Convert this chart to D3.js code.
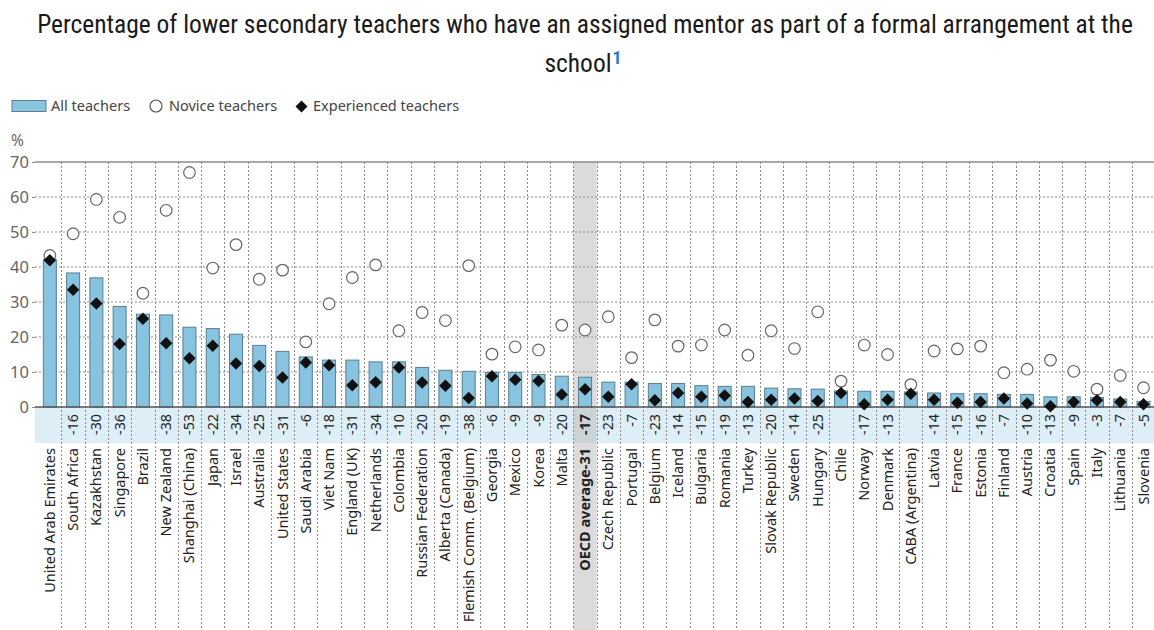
<!DOCTYPE html>
<html>
<head>
<meta charset="utf-8">
<script src="https://cdn.jsdelivr.net/npm/d3@7"></script>
<style>
  body { margin: 0; background: #fff; }
  svg { display: block; }
</style>
</head>
<body>
<div id="chart"></div>
<script>
// categories, in chart order
var countries = ["United Arab Emirates", "South Africa", "Kazakhstan", "Singapore", "Brazil",
  "New Zealand", "Shanghai (China)", "Japan", "Israel", "Australia", "United States",
  "Saudi Arabia", "Viet Nam", "England (UK)", "Netherlands", "Colombia", "Russian Federation",
  "Alberta (Canada)", "Flemish Comm. (Belgium)", "Georgia", "Mexico", "Korea", "Malta",
  "OECD average-31", "Czech Republic", "Portugal", "Belgium", "Iceland", "Bulgaria", "Romania",
  "Turkey", "Slovak Republic", "Sweden", "Hungary", "Chile", "Norway", "Denmark",
  "CABA (Argentina)", "Latvia", "France", "Estonia", "Finland", "Austria", "Croatia", "Spain",
  "Italy", "Lithuania", "Slovenia"];

// % all teachers (bars)
var allTeachers = [42.1, 38.3, 36.9, 28.7, 26.5, 26.3, 22.8, 22.4, 20.8, 17.6, 15.9,
  14.3, 13.4, 13.4, 12.9, 12.9, 11.3, 10.5, 10.2, 9.9, 9.9, 9.3, 8.8,
  8.5, 7.1, 7.1, 6.7, 6.7, 6.1, 5.9, 5.9, 5.4, 5.2, 5.1, 4.6, 4.5, 4.5,
  4.3, 4.0, 3.8, 3.8, 3.6, 3.6, 2.9, 2.9, 2.7, 2.3, 1.6];

// % novice teachers (circles)
var novice = [43.3, 49.5, 59.3, 54.2, 32.5, 56.2, 67.0, 39.7, 46.4, 36.5, 39.1,
  18.6, 29.5, 37.0, 40.6, 21.8, 27.0, 24.7, 40.4, 15.1, 17.2, 16.3, 23.4,
  22.0, 25.8, 14.1, 24.9, 17.4, 17.7, 22.0, 14.8, 21.8, 16.7, 27.2, 7.4, 17.7, 15.0,
  6.4, 16.0, 16.6, 17.4, 9.8, 10.8, 13.4, 10.2, 5.1, 9.0, 5.5];

// % experienced teachers (diamonds)
var experienced = [41.9, 33.5, 29.6, 18.0, 25.2, 18.2, 13.9, 17.5, 12.4, 11.7, 8.4,
  12.7, 11.9, 6.2, 7.1, 11.3, 7.0, 6.1, 2.6, 8.8, 7.8, 7.4, 3.6,
  5.1, 2.9, 6.5, 1.9, 4.0, 2.9, 3.3, 1.4, 2.1, 2.4, 1.7, 4.0, 0.8, 2.1,
  3.8, 2.1, 1.2, 1.4, 2.4, 1.0, 0.2, 1.4, 1.9, 1.4, 0.8];

// significant difference experienced - novice (blank = not significant)
var differences = ["", "-16", "-30", "-36", "", "-38", "-53", "-22", "-34", "-25", "-31",
  "-6", "-18", "-31", "-34", "-10", "-20", "-19", "-38", "-6", "-9", "-9", "-20",
  "-17", "-23", "-7", "-23", "-14", "-15", "-19", "-13", "-20", "-14", "-25", "", "-17", "-13",
  "", "-14", "-15", "-16", "-7", "-10", "-13", "-9", "-3", "-7", "-5"];

var yTicks = [0, 10, 20, 30, 40, 50, 60, 70];
var highlight = "OECD average-31";

var W = 1154, H = 630;
var plotLeft = 35, plotTop = 162, zeroY = 407, bandBottom = 443;
var font = "'Noto Sans', 'Open Sans', sans-serif";
var condensed = "'Roboto Condensed', 'Liberation Sans Narrow', 'DejaVu Sans Condensed', Roboto, sans-serif";

var svg = d3.select("#chart").append("svg")
  .attr("width", W).attr("height", H);

var x = d3.scaleBand()
  .domain(countries)
  .range([38.2, 38.2 + 23.27 * countries.length])
  .padding(0);

var y = d3.scaleLinear()
  .domain([0, 70])
  .range([zeroY, plotTop]);

var barW = 13;

// title
var title = svg.append("text")
  .attr("x", 585).attr("y", 33)
  .attr("text-anchor", "middle")
  .style("font-family", condensed)
  .style("font-size", "21px")
  .attr("fill", "#1a1a1a")
  .text("Percentage of lower secondary teachers who have an assigned mentor as part of a formal arrangement at the");
// fit the first line to the reference width
var tl = title.node().getComputedTextLength();
var titleSize = 21 * 1096 / tl;
title.style("font-size", titleSize.toFixed(2) + "px");

var t2 = svg.append("text")
  .attr("x", 583).attr("y", 72)
  .attr("text-anchor", "middle")
  .style("font-family", condensed)
  .style("font-size", titleSize + "px")
  .attr("fill", "#1a1a1a");
t2.append("tspan").text("school");
t2.append("tspan")
  .attr("dy", -8)
  .attr("dx", 1)
  .style("font-size", (titleSize * 0.7) + "px")
  .style("font-weight", "bold")
  .attr("fill", "#2a7bc0")
  .text("1");

// legend
var legend = svg.append("g").style("font-family", font).style("font-size", "14.5px");
legend.append("rect")
  .attr("x", 12).attr("y", 100.5).attr("width", 34).attr("height", 11)
  .attr("fill", "#8ac5e0").attr("stroke", "#5a7d90").attr("stroke-width", 1);
legend.append("text").attr("x", 51).attr("y", 111).attr("fill", "#444").text("All teachers");
legend.append("circle")
  .attr("cx", 156).attr("cy", 106).attr("r", 6)
  .attr("fill", "#fff").attr("stroke", "#555").attr("stroke-width", 1.2);
legend.append("text").attr("x", 169).attr("y", 111).attr("fill", "#444").text("Novice teachers");
legend.append("path")
  .attr("d", d3.symbol(d3.symbolSquare, 72)())
  .attr("transform", "translate(301.5,106.5) rotate(45)")
  .attr("fill", "#111");
legend.append("text").attr("x", 313).attr("y", 111).attr("fill", "#444").text("Experienced teachers");

// band under zero line for the differences
svg.append("rect")
  .attr("x", plotLeft).attr("y", zeroY)
  .attr("width", W - plotLeft).attr("height", bandBottom - zeroY)
  .attr("fill", "#ddeef7");

// OECD column highlight
svg.append("rect")
  .attr("x", x(highlight)).attr("y", plotTop)
  .attr("width", x.bandwidth()).attr("height", H - plotTop)
  .attr("fill", "#bdbdbd").attr("opacity", 0.55);

// horizontal gridlines
svg.append("g")
  .selectAll("line")
  .data(yTicks.filter(d => d > 0 && d < 70))
  .enter().append("line")
  .attr("x1", plotLeft).attr("x2", W)
  .attr("y1", d => y(d)).attr("y2", d => y(d))
  .attr("stroke", "#8f8f8f").attr("stroke-width", 1)
  .attr("stroke-dasharray", "2,2");

// vertical dotted separators between columns
svg.append("g")
  .selectAll("line")
  .data(countries.slice(1))
  .enter().append("line")
  .attr("x1", d => Math.round(x(d)) + 0.5).attr("x2", d => Math.round(x(d)) + 0.5)
  .attr("y1", plotTop).attr("y2", H)
  .attr("stroke", "#8a8a8a").attr("stroke-width", 1)
  .attr("stroke-dasharray", "2,2");

// top line
svg.append("line")
  .attr("x1", plotLeft).attr("x2", W)
  .attr("y1", y(70)).attr("y2", y(70))
  .attr("stroke", "#8c8c8c").attr("stroke-width", 1.5);

// y axis labels
var yAxis = svg.append("g")
  .attr("transform", `translate(${plotLeft},0)`)
  .call(d3.axisLeft(y).tickValues(yTicks).tickSize(3).tickPadding(3));
yAxis.select(".domain").remove();
yAxis.selectAll(".tick line").attr("stroke", "#8c8c8c");
yAxis.selectAll(".tick text")
  .style("font-family", font).style("font-size", "16.5px").attr("fill", "#666");

svg.append("text")
  .attr("x", 11).attr("y", 146)
  .style("font-family", font).style("font-size", "15.5px")
  .attr("fill", "#666").text("%");

// bars
svg.append("g")
  .selectAll("rect")
  .data(countries)
  .enter().append("rect")
  .attr("x", d => x(d) + (x.bandwidth() - barW) / 2)
  .attr("y", (d, i) => y(allTeachers[i]))
  .attr("width", barW)
  .attr("height", (d, i) => zeroY - y(allTeachers[i]))
  .attr("fill", "#88c3df")
  .attr("stroke", "#5a7d90")
  .attr("stroke-width", 1);

// zero line
svg.append("line")
  .attr("x1", plotLeft).attr("x2", W)
  .attr("y1", zeroY).attr("y2", zeroY)
  .attr("stroke", "#555").attr("stroke-width", 1.5);

// novice circles
svg.append("g")
  .selectAll("circle")
  .data(countries)
  .enter().append("circle")
  .attr("cx", d => x(d) + x.bandwidth() / 2)
  .attr("cy", (d, i) => y(novice[i]))
  .attr("r", 5.8)
  .attr("fill", "#fff")
  .attr("stroke", "#666")
  .attr("stroke-width", 1.2);

// experienced diamonds
svg.append("g")
  .selectAll("path")
  .data(countries)
  .enter().append("path")
  .attr("d", d3.symbol(d3.symbolSquare, 78)())
  .attr("transform", (d, i) => `translate(${x(d) + x.bandwidth() / 2},${y(experienced[i])}) rotate(45)`)
  .attr("fill", "#111");

// difference labels inside the band
svg.append("g")
  .selectAll("text")
  .data(countries)
  .enter().append("text")
  .attr("transform", d => `translate(${x(d) + x.bandwidth() / 2 + 5},414) rotate(-90)`)
  .attr("text-anchor", "end")
  .style("font-family", font)
  .style("font-size", "14.3px")
  .style("font-weight", d => d === highlight ? "bold" : "normal")
  .attr("fill", "#222")
  .text((d, i) => differences[i]);

// category labels
svg.append("g")
  .selectAll("text")
  .data(countries)
  .enter().append("text")
  .attr("transform", d => `translate(${x(d) + x.bandwidth() / 2 + 5},448) rotate(-90)`)
  .attr("text-anchor", "end")
  .style("font-family", font)
  .style("font-size", "14.5px")
  .style("font-weight", d => d === highlight ? "bold" : "normal")
  .attr("fill", "#222")
  .text(d => d);
</script>
</body>
</html>
